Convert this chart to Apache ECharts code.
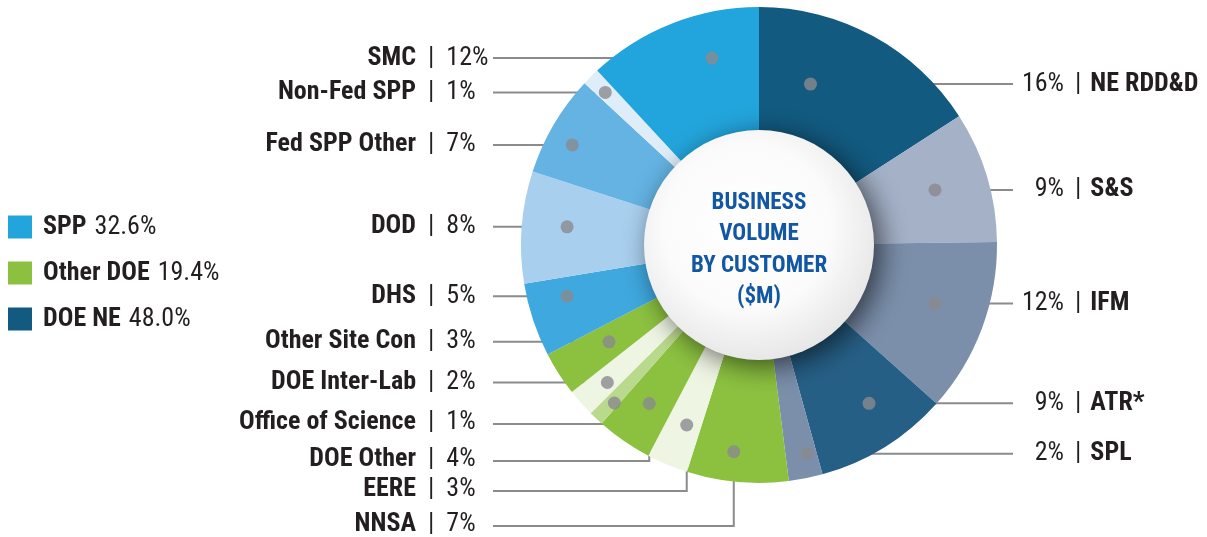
<!DOCTYPE html>
<html><head><meta charset="utf-8">
<script src="https://cdn.jsdelivr.net/npm/echarts@6/dist/echarts.min.js"></script>
<style>html,body{margin:0;padding:0;background:#fff}#c{width:1207px;height:537px}</style>
</head><body><div id="c"></div>
<script>
// ---------- data ----------
const customers = ['NE RDD&D','S&S','IFM','ATR*','SPL','NNSA','EERE','DOE Other','Office of Science','DOE Inter-Lab','Other Site Con','DHS','DOD','Fed SPP Other','Non-Fed SPP','SMC'];
const shares = [15.9, 8.9, 11.8, 9.1, 2.3, 6.9, 2.8, 3.8, 1.0, 1.9, 3.0, 5.0, 7.6, 6.9, 1.2, 11.9];
const customerGroup = ['DOE NE','DOE NE','DOE NE','DOE NE','DOE NE','Other DOE','Other DOE','Other DOE','Other DOE','Other DOE','Other DOE','SPP','SPP','SPP','SPP','SPP'];
const groups = ['SPP','Other DOE','DOE NE'];
const centerTitle = ['BUSINESS','VOLUME','BY CUSTOMER','($M)'];

// ---------- styles / layout ----------
const sliceColors = ['#125a80','#a4b1c7','#7b8fab','#265f86','#7b8fab','#8cc140','#eef5e3','#8cc140','#b9d98d','#eef5e3','#8cc140','#3fa8de','#a9cfee','#64b3e3','#deedf8','#22a5dc'];
const groupColors = {'SPP':'#22a5dc','Other DOE':'#8cc140','DOE NE':'#125a80'};
// marker placement inside each slice: [fraction along the slice's arc, fraction of outer radius]
const dotSpec = {
  'NE RDD&D':[0.31,0.71], 'S&S':[0.48,0.775], 'IFM':[0.45,0.78], 'ATR*':[0.41,0.81], 'SPL':[0.3,0.9],
  'NNSA':[0.57,0.875], 'EERE':[0.42,0.815], 'DOE Other':[0.51,0.81], 'Office of Science':[0.3,0.9],
  'DOE Inter-Lab':[0.41,0.86], 'Other Site Con':[0.49,0.75], 'DHS':[0.69,0.835], 'DOD':[0.54,0.81],
  'Fed SPP Other':[0.41,0.89], 'Non-Fed SPP':[0.45,0.91], 'SMC':[0.67,0.81]
};
// leader lines that drop down before turning left: line height below centre (px)
const elbowDrop = {'Office of Science':179, 'DOE Other':216, 'EERE':246, 'NNSA':281};

const CX = 759, CY = 245, R = 238;
const FONT = '"Roboto Condensed", "DejaVu Sans Condensed", sans-serif';
const TXT = '#231f20';
const LINE_L = 493, LINE_R = 1013, LEFT_TEXT_END = 416, RIGHT_PCT_END = 1064;

const total = shares.reduce((a,b)=>a+b,0);
const startA = [], endA = [];
let acc = 0;
shares.forEach(v => { startA.push(acc/total*360); acc += v; endA.push(acc/total*360); });
const dotAngle = customers.map((n,i) => startA[i] + dotSpec[n][0]*(endA[i]-startA[i]));
const dotRad = customers.map(n => dotSpec[n][1]);
const dotPx = customers.map((n,i) => {
  const a = dotAngle[i]*Math.PI/180;
  return [CX + dotRad[i]*R*Math.sin(a), CY - dotRad[i]*R*Math.cos(a)];
});
const isRight = customers.map((n,i) => (startA[i]+endA[i])/2 < 180);
const pctText = shares.map(v => Math.round(v) + '%');
const groupTotals = {};
groups.forEach(g => { groupTotals[g] = shares.reduce((s,v,i)=> s + (customerGroup[i]===g ? v : 0), 0); });

const mctx = document.createElement('canvas').getContext('2d');
function textW(s, bold){ mctx.font = (bold ? 'bold ' : 'normal ') + '26px ' + FONT; return mctx.measureText(s).width; }

const chart = echarts.init(document.getElementById('c'));
chart.setOption({
  animation: false,
  legend: {
    data: groups.map(g => ({name: g, itemStyle: {color: groupColors[g]}})),
    orient: 'vertical', left: 8, top: 214, padding: 0,
    itemWidth: 24, itemHeight: 23, itemGap: 20, icon: 'rect', selectedMode: false,
    formatter: n => `{b|${n}}{r|${groupTotals[n].toFixed(1)}%}`,
    textStyle: {
      fontFamily: FONT, fontSize: 26, color: TXT, lineHeight: 23,
      rich: {
        b: {fontFamily: FONT, fontSize: 26, fontWeight: 'bold', color: TXT, padding: [0,0,0,6], lineHeight: 23},
        r: {fontFamily: FONT, fontSize: 26, color: TXT, padding: [0,0,0,8], lineHeight: 23}
      }
    }
  },
  polar: {center: [CX, CY], radius: R},
  angleAxis: {type: 'value', min: 0, max: 360, startAngle: 90, clockwise: true, show: false},
  radiusAxis: {type: 'value', min: 0, max: 1, show: false},
  series: [
    {
      type: 'pie', center: [CX, CY], radius: [100, R], startAngle: 90, clockwise: true,
      silent: true, avoidLabelOverlap: false, emphasis: {disabled: true},
      itemStyle: {borderWidth: 0},
      data: customers.map((n,i) => ({name: n, value: shares[i], itemStyle: {color: sliceColors[i]}})),
      label: {
        show: true, position: 'outside', fontFamily: FONT, fontSize: 26, color: TXT,
        formatter: p => isRight[p.dataIndex]
          ? `{p|${pctText[p.dataIndex]}}{sR||}{n|${p.name}}`
          : `{n|${p.name}}{sL||}{p|${pctText[p.dataIndex]}}`,
        rich: {
          n: {fontFamily: FONT, fontSize: 26, fontWeight: 'bold', color: TXT, lineHeight: 30},
          p: {fontFamily: FONT, fontSize: 26, color: TXT, lineHeight: 30},
          sL: {fontFamily: FONT, fontSize: 26, color: TXT, lineHeight: 30, padding: [0,12,0,12]},
          sR: {fontFamily: FONT, fontSize: 26, color: TXT, lineHeight: 30, padding: [0,9,0,11]}
        }
      },
      labelLine: {show: true, smooth: false, lineStyle: {color: '#8a8b8d', width: 2}},
      labelLayout: p => {
        const i = p.dataIndex, name = customers[i];
        const [dx, dy] = dotPx[i];
        if (isRight[i]) {
          return {x: RIGHT_PCT_END - textW(pctText[i], false), y: dy, align: 'left', verticalAlign: 'middle',
                  labelLinePoints: [[dx,dy],[(dx+LINE_R)/2,dy],[LINE_R,dy]]};
        }
        const x = LEFT_TEXT_END - textW(name, true);
        if (elbowDrop[name] != null) {
          const ly = CY + elbowDrop[name];
          return {x: x, y: ly - 2, align: 'left', verticalAlign: 'middle',
                  labelLinePoints: [[dx,dy],[dx,ly],[LINE_L,ly]]};
        }
        return {x: x, y: dy, align: 'left', verticalAlign: 'middle',
                labelLinePoints: [[dx,dy],[(dx+LINE_L)/2,dy],[LINE_L,dy]]};
      }
    },
    {
      type: 'pie', center: [CX, CY], radius: [0, 99], silent: true, emphasis: {disabled: true},
      label: {show: false}, labelLine: {show: false},
      data: groups.map(g => ({name: g, value: groupTotals[g], itemStyle: {color: groupColors[g]}}))
    },
    {
      type: 'pie', center: [CX, CY], radius: [0, 115], silent: true, emphasis: {disabled: true},
      data: [{name: centerTitle.join(' '), value: 1}],
      itemStyle: {
        color: {type: 'radial', x: 0.45, y: 0.42, r: 0.6, colorStops: [
          {offset: 0, color: '#ffffff'}, {offset: 0.6, color: '#fbfbfb'}, {offset: 1, color: '#e6e6e7'}]},
        shadowBlur: 28, shadowColor: 'rgba(0,0,0,0.6)', shadowOffsetX: 7, shadowOffsetY: 6
      },
      label: {show: true, position: 'center', formatter: centerTitle.join('\n'),
        fontFamily: FONT, fontWeight: 'bold', fontSize: 23, lineHeight: 31.5, color: '#1257a4'},
      labelLayout: {dy: 5},
      labelLine: {show: false}
    },
    {
      type: 'scatter', coordinateSystem: 'polar', silent: true, z: 10,
      symbol: 'circle', symbolSize: 13, itemStyle: {color: '#8a8a8d'},
      data: customers.map((n,i) => [dotRad[i], dotAngle[i]])
    }
  ]
});
</script></body></html>
